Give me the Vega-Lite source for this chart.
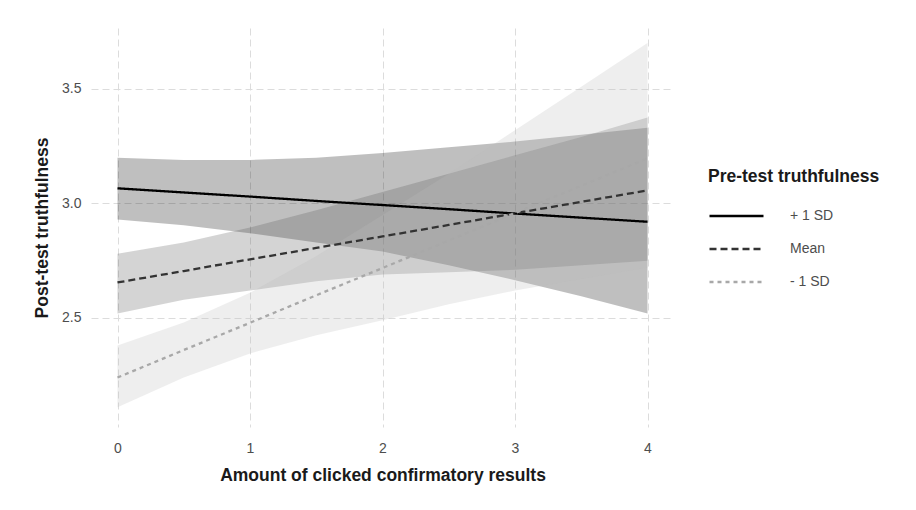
{
  "$schema": "https://vega.github.io/schema/vega-lite/v6.json",
  "width": 583,
  "height": 399,
  "autosize": {"type": "none"},
  "padding": {"left": 91, "top": 28, "right": 242, "bottom": 83},
  "background": "white",
  "config": {
    "font": "Liberation Sans",
    "view": {"stroke": null},
    "axis": {
      "domain": false,
      "ticks": false,
      "grid": true,
      "gridColor": "#dcdcdc",
      "gridDash": [7, 4],
      "gridWidth": 1,
      "labelFont": "Liberation Sans",
      "labelFontSize": 14,
      "labelColor": "#4d4d4d",
      "titleFont": "Liberation Sans",
      "titleFontSize": 17.5,
      "titleFontWeight": "bold",
      "titleColor": "#1a1a1a"
    },
    "legend": {
      "titleFont": "Liberation Sans",
      "titleFontSize": 17.5,
      "titleFontWeight": "bold",
      "titleColor": "#1a1a1a",
      "labelFont": "Liberation Sans",
      "labelFontSize": 14,
      "labelColor": "#4d4d4d"
    }
  },
  "data": {
    "values": [
      {"series": "+ 1 SD", "x": 0, "y": 3.066, "lo": 2.93, "hi": 3.2},
      {"series": "+ 1 SD", "x": 0.5, "y": 3.048, "lo": 2.905, "hi": 3.19},
      {"series": "+ 1 SD", "x": 1, "y": 3.03, "lo": 2.87, "hi": 3.19},
      {"series": "+ 1 SD", "x": 1.5, "y": 3.011, "lo": 2.83, "hi": 3.2},
      {"series": "+ 1 SD", "x": 2, "y": 2.993, "lo": 2.79, "hi": 3.22},
      {"series": "+ 1 SD", "x": 2.5, "y": 2.975, "lo": 2.73, "hi": 3.245},
      {"series": "+ 1 SD", "x": 3, "y": 2.956, "lo": 2.665, "hi": 3.27},
      {"series": "+ 1 SD", "x": 3.5, "y": 2.938, "lo": 2.595, "hi": 3.3},
      {"series": "+ 1 SD", "x": 4, "y": 2.92, "lo": 2.52, "hi": 3.33},
      {"series": "Mean", "x": 0, "y": 2.655, "lo": 2.52, "hi": 2.78},
      {"series": "Mean", "x": 0.5, "y": 2.705, "lo": 2.58, "hi": 2.83},
      {"series": "Mean", "x": 1, "y": 2.756, "lo": 2.62, "hi": 2.895},
      {"series": "Mean", "x": 1.5, "y": 2.806, "lo": 2.66, "hi": 2.97},
      {"series": "Mean", "x": 2, "y": 2.856, "lo": 2.69, "hi": 3.05},
      {"series": "Mean", "x": 2.5, "y": 2.906, "lo": 2.7, "hi": 3.13},
      {"series": "Mean", "x": 3, "y": 2.957, "lo": 2.71, "hi": 3.21},
      {"series": "Mean", "x": 3.5, "y": 3.007, "lo": 2.73, "hi": 3.29},
      {"series": "Mean", "x": 4, "y": 3.057, "lo": 2.75, "hi": 3.375},
      {"series": "- 1 SD", "x": 0, "y": 2.24, "lo": 2.11, "hi": 2.38},
      {"series": "- 1 SD", "x": 0.5, "y": 2.36, "lo": 2.24, "hi": 2.48},
      {"series": "- 1 SD", "x": 1, "y": 2.479, "lo": 2.345, "hi": 2.61},
      {"series": "- 1 SD", "x": 1.5, "y": 2.599, "lo": 2.425, "hi": 2.77},
      {"series": "- 1 SD", "x": 2, "y": 2.718, "lo": 2.49, "hi": 2.95},
      {"series": "- 1 SD", "x": 2.5, "y": 2.838, "lo": 2.56, "hi": 3.13},
      {"series": "- 1 SD", "x": 3, "y": 2.958, "lo": 2.62, "hi": 3.32},
      {"series": "- 1 SD", "x": 3.5, "y": 3.077, "lo": 2.67, "hi": 3.51},
      {"series": "- 1 SD", "x": 4, "y": 3.197, "lo": 2.72, "hi": 3.7}
    ]
  },
  "encoding": {
    "x": {
      "field": "x",
      "type": "quantitative",
      "scale": {"domain": [-0.2, 4.2], "nice": false, "zero": false},
      "axis": {
        "values": [0, 1, 2, 3, 4],
        "format": "d",
        "title": "Amount of clicked confirmatory results",
        "labelPadding": 14,
        "titlePadding": 11
      }
    }
  },
  "layer": [
    {
      "mark": {"type": "area", "fillOpacity": 0.25},
      "encoding": {
        "y": {
          "field": "lo",
          "type": "quantitative",
          "scale": {"domain": [2.024, 3.766], "nice": false, "zero": false},
          "axis": {
            "values": [2.5, 3.0, 3.5],
            "format": ".1f",
            "title": "Post-test truthfulness",
            "labelPadding": 10,
            "titlePadding": 10
          }
        },
        "y2": {"field": "hi"},
        "color": {
          "field": "series",
          "type": "nominal",
          "scale": {"domain": ["+ 1 SD", "Mean", "- 1 SD"], "range": ["#000000", "#555555", "#bbbbbb"]},
          "legend": null
        }
      }
    },
    {
      "mark": {"type": "line", "strokeWidth": 2.3},
      "encoding": {
        "y": {"field": "y", "type": "quantitative"},
        "color": {
          "field": "series",
          "type": "nominal",
          "sort": ["+ 1 SD", "Mean", "- 1 SD"],
          "scale": {"domain": ["+ 1 SD", "Mean", "- 1 SD"], "range": ["#000000", "#333333", "#a8a8a8"]},
          "title": "Pre-test truthfulness",
          "legend": {
            "orient": "none",
            "legendX": 617,
            "legendY": 140,
            "symbolType": "M-1,0H5",
            "symbolSize": 324,
            "symbolStrokeWidth": 2.4,
            "labelOffset": 61,
            "rowPadding": 15,
            "titlePadding": 20,
            "encode": {
              "symbols": {
                "update": {
                  "strokeDash": {"scale": "strokeDash", "field": "value"}
                }
              }
            }
          }
        },
        "strokeDash": {
          "field": "series",
          "type": "nominal",
          "sort": ["+ 1 SD", "Mean", "- 1 SD"],
          "scale": {"domain": ["+ 1 SD", "Mean", "- 1 SD"], "range": [[1, 0], [7, 4], [4, 4]]},
          "legend": null
        }
      }
    }
  ],
  "resolve": {"scale": {"color": "independent"}}
}
